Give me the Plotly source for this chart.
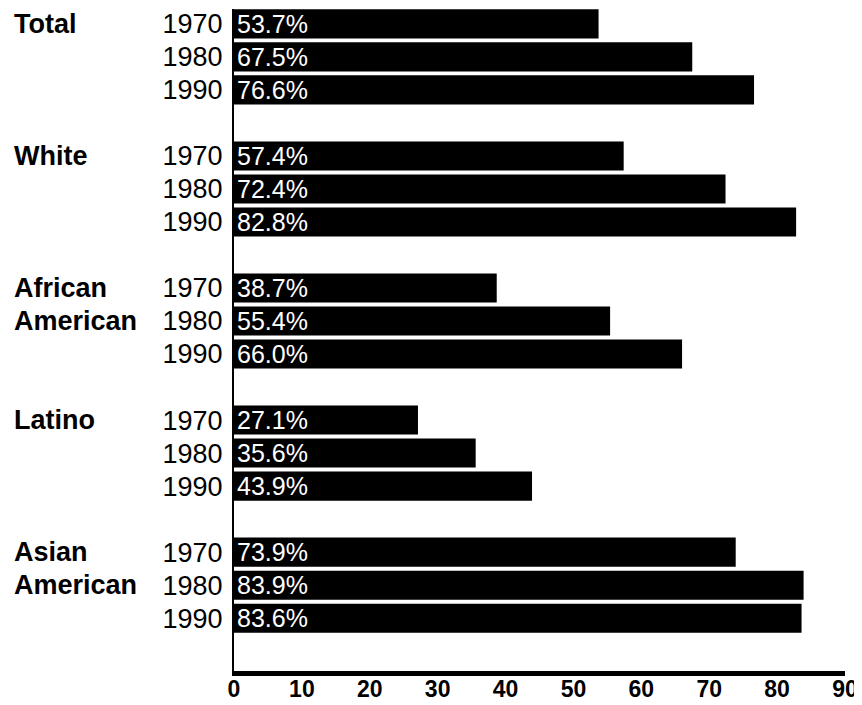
import plotly.graph_objects as go

groups = ["Total", "White", "African American", "Latino", "Asian American"]
group_lines = [["Total"], ["White"], ["African", "American"], ["Latino"], ["Asian", "American"]]
years = ["1970", "1980", "1990"]
total = [53.7, 67.5, 76.6]
white = [57.4, 72.4, 82.8]
african_american = [38.7, 55.4, 66.0]
latino = [27.1, 35.6, 43.9]
asian_american = [73.9, 83.9, 83.6]
series = [total, white, african_american, latino, asian_american]
x_ticks = [0, 10, 20, 30, 40, 50, 60, 70, 80, 90]

pos, vals, ytext, btext = [], [], [], []
for gi, s in enumerate(series):
    for yi, v in enumerate(s):
        p = gi * 4 + yi
        pos.append(p)
        vals.append(v)
        ytext.append(years[yi])
        btext.append(f"{v:.1f}%")

fig = go.Figure()
fig.add_trace(go.Bar(
    x=vals, y=pos, orientation="h", width=0.88,
    marker=dict(color="black", line=dict(width=0)),
    text=btext, textposition="inside", insidetextanchor="start",
    constraintext="none",
    insidetextfont=dict(family="Liberation Sans, Arial, sans-serif", size=25, color="white"),
    hoverinfo="skip",
))

# page body has an 8px margin: shrink the figure accordingly
W, H = 854, 697
L, R, T, B = 226, 17, 1, 34
plot_w = W - L - R
for gi, lines in enumerate(group_lines):
    for li, line in enumerate(lines):
        fig.add_annotation(
            x=(4 - L) / plot_w, xref="paper", xanchor="left",
            y=gi * 4 + li, yref="y", yanchor="middle",
            text=f"<b>{line}</b>", showarrow=False,
            font=dict(family="Liberation Sans, Arial, sans-serif", size=27, color="black"),
        )

fig.update_layout(
    width=W, height=H,
    margin=dict(l=L, r=R, t=T, b=B),
    paper_bgcolor="white", plot_bgcolor="white",
    showlegend=False,
    xaxis=dict(
        range=[0, 90], tickvals=x_ticks, ticktext=[str(t) for t in x_ticks],
        showgrid=False, zeroline=False, showline=True, linecolor="black", linewidth=5,
        ticks="", automargin=False, ticklabelstandoff=-7,
        tickfont=dict(family="Liberation Sans Narrow, Liberation Sans, Arial, sans-serif", size=23, color="black", weight="bold"),
        fixedrange=True,
    ),
    yaxis=dict(
        range=[19.6, -0.45], tickvals=pos, ticktext=ytext,
        showgrid=False, zeroline=False, showline=True, linecolor="black", linewidth=2,
        ticks="outside", ticklen=4, tickcolor="white", automargin=False,
        tickfont=dict(family="Liberation Sans, Arial, sans-serif", size=27, color="black"),
        fixedrange=True,
    ),
)

fig.write_html("out.html")
